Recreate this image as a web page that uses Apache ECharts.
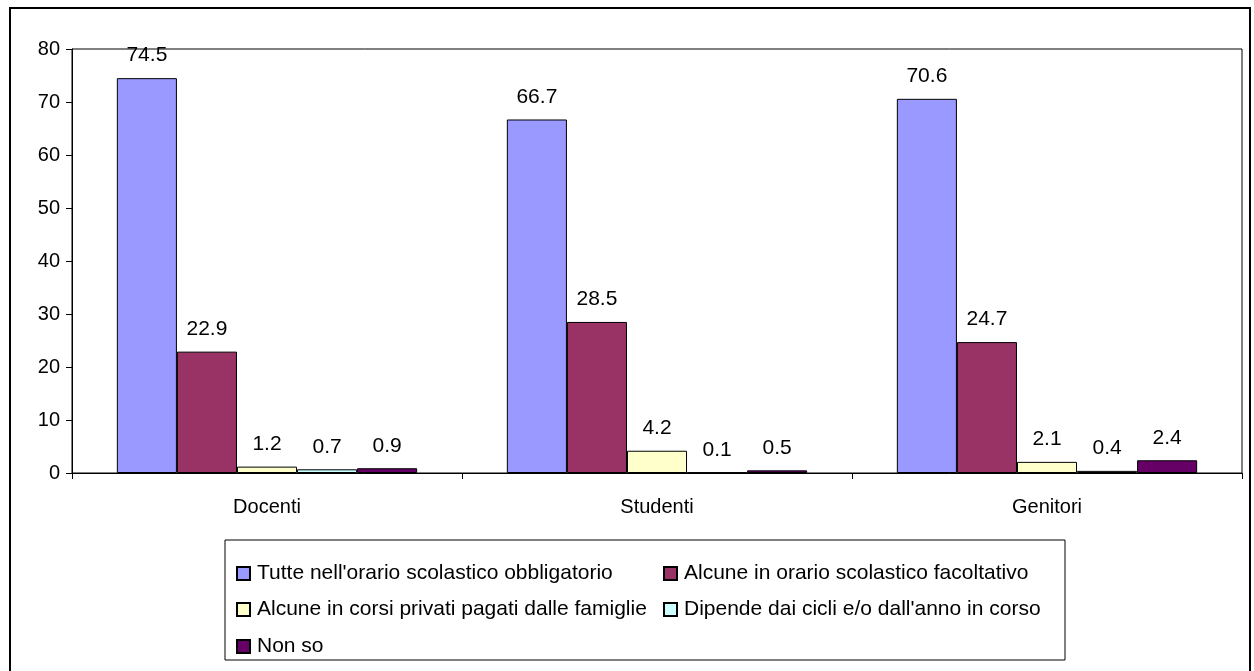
<!DOCTYPE html>
<html><head><meta charset="utf-8">
<script src="https://cdn.jsdelivr.net/npm/echarts@6/dist/echarts.min.js"></script>
<style>html,body{margin:0;padding:0;background:#fff}#c{width:1254px;height:671px}</style>
</head><body><div id="c"></div>
<script>
const categories = ['Docenti', 'Studenti', 'Genitori'];
const seriesNames = [
  "Tutte nell'orario scolastico obbligatorio",
  "Alcune in orario scolastico facoltativo",
  "Alcune in corsi privati pagati dalle famiglie",
  "Dipende dai cicli e/o dall'anno in corso",
  "Non so"
];
const tutte = [74.5, 66.7, 70.6];
const alcuneFac = [22.9, 28.5, 24.7];
const privati = [1.2, 4.2, 2.1];
const dipende = [0.7, 0.1, 0.4];
const nonSo = [0.9, 0.5, 2.4];
const yTicks = [0, 10, 20, 30, 40, 50, 60, 70, 80];

const colors = ['#9999FF', '#993366', '#FFFFCC', '#CCFFFF', '#660066'];
const values = [tutte, alcuneFac, privati, dipende, nonSo];
const font = 'Liberation Sans, Arial, sans-serif';

const legendPos = [
  {left: 236, top: 563},
  {left: 663, top: 563},
  {left: 236, top: 599},
  {left: 663, top: 599},
  {left: 236, top: 636}
];

const chart = echarts.init(document.getElementById('c'));
chart.setOption({
  animation: false,
  graphic: [
    {type: 'rect', shape: {x: 10, y: 8, width: 1240, height: 680}, style: {fill: 'none', stroke: '#000', lineWidth: 2}, z: 100},
    {type: 'rect', shape: {x: 225, y: 540, width: 840, height: 120}, style: {fill: 'none', stroke: '#000', lineWidth: 1}, z: 100}
  ],
  legend: seriesNames.map((n, i) => ({
    data: [n], left: legendPos[i].left, top: legendPos[i].top, padding: 0,
    itemWidth: 13, itemHeight: 13, itemGap: 4, icon: 'rect',
    selectedMode: false,
    textStyle: {fontFamily: font, fontSize: 21, color: '#000', padding: [0, 0, 0, 2]}
  })),
  grid: {left: 72, right: 12, top: 49, bottom: 198, show: true, borderColor: '#000', borderWidth: 1, containLabel: false},
  xAxis: {
    type: 'category', data: categories,
    axisLine: {lineStyle: {color: '#000'}},
    axisTick: {show: true, alignWithLabel: false, length: 6, lineStyle: {color: '#000'}},
    axisLabel: {fontFamily: font, fontSize: 20, color: '#000', margin: 24}
  },
  yAxis: {
    type: 'value', min: 0, max: 80, interval: 10,
    axisLine: {show: true, lineStyle: {color: '#000'}},
    axisTick: {show: true, length: 6, lineStyle: {color: '#000'}},
    splitLine: {show: false},
    axisLabel: {fontFamily: font, fontSize: 20, color: '#000', margin: 12,
      formatter: v => yTicks.includes(v) ? String(v) : ''}
  },
  series: seriesNames.map((n, i) => ({
    name: n, type: 'bar', data: values[i],
    barGap: '0%', barCategoryGap: '23%',
    itemStyle: {color: colors[i], borderColor: '#000', borderWidth: 1},
    label: {show: true, position: 'top', distance: 12, fontFamily: font, fontSize: 21, color: '#000',
      formatter: p => p.value.toFixed(1)}
  }))
});
</script></body></html>
